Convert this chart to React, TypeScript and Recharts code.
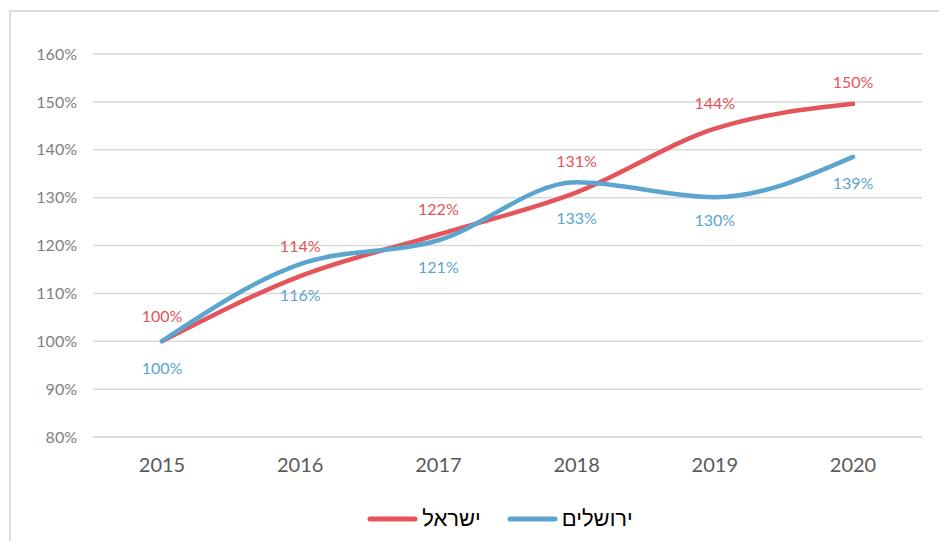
import React from 'react';
import { LineChart, Line, XAxis, YAxis, CartesianGrid, Legend, LabelList } from 'recharts';

const years = ['2015', '2016', '2017', '2018', '2019', '2020'];
const israel = [100, 113.6, 122.3, 131.1, 144.4, 149.6];
const jerusalem = [100, 116.1, 121.1, 133.2, 130.1, 138.5];
const yTicks = [80, 90, 100, 110, 120, 130, 140, 150, 160];

// distance (px) of each value label from its point, as placed in the original
const israelLabelGap = [26, 31, 26, 32, 26, 22];
const jerusalemLabelGap = [26, 30, 26, 35, 22, 26];

const RED = '#e4545b';
const BLUE = '#5ba5cf';
const FONT = 'Lato, "Open Sans", sans-serif';
const LEGEND_FONT = '"Liberation Sans", Arial, sans-serif';

const data = years.map((year, i) => ({
  year,
  israel: israel[i],
  jerusalem: jerusalem[i],
}));

const pct = (v: number) => `${Math.round(v)}%`;

const makeLabel = (color: string, gaps: number[], dir: number) => (props: any) => {
  const { x, y, value, index } = props;
  if (x == null || y == null) return null;
  return (
    <text
      x={x}
      y={y + dir * gaps[index]}
      textAnchor="middle"
      dominantBaseline="central"
      fill={color}
      fontSize={16}
      fontFamily={FONT}
    >
      {pct(value)}
    </text>
  );
};

const LegendContent = ({ payload }: any) => {
  const order = ['israel', 'jerusalem'];
  const items = [...(payload || [])].sort(
    (a: any, b: any) => order.indexOf(a.dataKey) - order.indexOf(b.dataKey)
  );
  return (
    <div style={{ display: 'flex', justifyContent: 'center', alignItems: 'center', gap: 26, marginLeft: 65 }}>
      {items.map((item: any) => (
        <div key={item.dataKey} style={{ display: 'flex', alignItems: 'center', gap: 4 }}>
          <svg width={51} height={10}>
            <line x1={3} y1={5} x2={48} y2={5} stroke={item.color} strokeWidth={5} strokeLinecap="round" />
          </svg>
          <span style={{ fontSize: 22, fontFamily: LEGEND_FONT, color: '#000' }}>{item.value}</span>
        </div>
      ))}
    </div>
  );
};

export default function App() {
  return (
    <div style={{ position: 'fixed', left: 0, top: 0, width: 939, height: 541, overflow: 'hidden', background: '#fff' }}>
      {/* frame of the original sheet */}
      <div
        style={{
          position: 'absolute',
          left: 9,
          top: 10,
          width: 1000,
          height: 700,
          border: '2px solid #dcdcdc',
        }}
      />
      <div style={{ position: 'absolute', left: 0, top: 0 }}>
        <LineChart
          width={939}
          height={541}
          data={data}
          margin={{ top: 54, right: 17, left: 13, bottom: 0 }}
          style={{ fontFamily: FONT }}
        >
          <CartesianGrid vertical={false} stroke="#d9d9d9" strokeWidth={1.5} />
          <XAxis
            dataKey="year"
            padding={{ left: 69, right: 69 }}
            axisLine={{ stroke: '#d9d9d9', strokeWidth: 1.5 }}
            tickLine={false}
            height={60}
            tickMargin={15}
            tick={{ fill: '#595959', fontSize: 20, fontFamily: FONT }}
          />
          <YAxis
            domain={[80, 160]}
            ticks={yTicks}
            tickFormatter={(v) => `${v}%`}
            axisLine={false}
            tickLine={false}
            width={80}
            tickMargin={10}
            tick={{ fill: '#7f7f7f', fontSize: 16, fontFamily: FONT }}
          />
          <Legend
            verticalAlign="bottom"
            height={44}
            content={<LegendContent />}
            wrapperStyle={{ top: 506 }}
          />
          <Line
            type="monotone"
            dataKey="israel"
            name="ישראל"
            stroke={RED}
            strokeWidth={4.5}
            strokeLinecap="round"
            dot={false}
            activeDot={false}
            isAnimationActive={false}
          >
            <LabelList dataKey="israel" content={makeLabel(RED, israelLabelGap, -1)} />
          </Line>
          <Line
            type="monotone"
            dataKey="jerusalem"
            name="ירושלים"
            stroke={BLUE}
            strokeWidth={4.5}
            strokeLinecap="round"
            dot={false}
            activeDot={false}
            isAnimationActive={false}
          >
            <LabelList dataKey="jerusalem" content={makeLabel(BLUE, jerusalemLabelGap, 1)} />
          </Line>
        </LineChart>
      </div>
    </div>
  );
}
